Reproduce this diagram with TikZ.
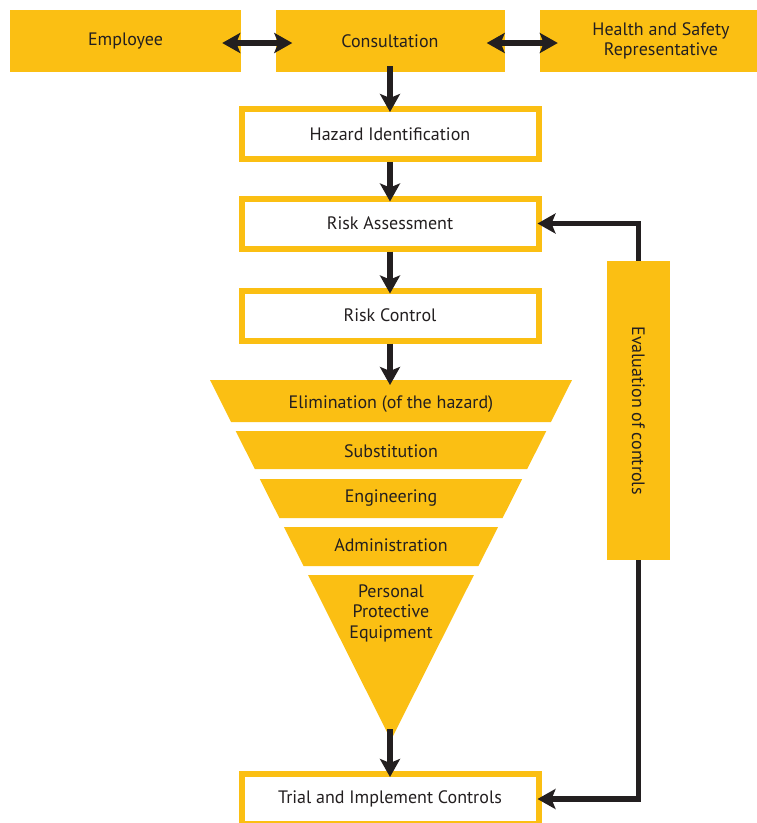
\documentclass[tikz,border=0pt]{standalone}
\usepackage{fontspec}
\setmainfont{PT Sans}
\usetikzlibrary{arrows.meta}
\definecolor{gelb}{HTML}{FBBF13}
\definecolor{dunkel}{HTML}{231F20}

\begin{document}
\begin{tikzpicture}[x=1pt, y=-1pt,
	font=\fontsize{18}{20.5}\selectfont, text=dunkel,
	>={Stealth[length=18pt, width=20pt, inset=4pt]},
	gelbbox/.style={fill=gelb, minimum height=62pt, inner sep=0pt, align=center},
	weissbox/.style={draw=gelb, fill=white, line width=6pt, minimum width=297pt, minimum height=50pt, inner sep=0pt},
	pfeil/.style={draw=dunkel, line width=5.5pt, ->},
	doppelpfeil/.style={draw=dunkel, line width=5.5pt, <->}]
	\useasboundingbox (0,0) rectangle (756,823);
	% obere reihe
	\node[gelbbox, minimum width=231pt] (emp) at (125.5,41) {Employee};
	\node[gelbbox, minimum width=229pt] (consult) at (390,41) {Consultation};
	\node[gelbbox, minimum width=242pt] (hsr) at (661,41) {Health and Safety\\Representative};
	\draw[doppelpfeil] ([xshift=-19pt, yshift=-2pt]emp.east) -- ([xshift=17pt, yshift=-2pt]consult.west);
	\draw[doppelpfeil] ([xshift=-18pt, yshift=-2pt]consult.east) -- ([xshift=18pt, yshift=-2pt]hsr.west);
	% die weissen kaesten
	\node[weissbox] (hazard) at (390,134) {Hazard Identification};
	\node[weissbox] (risk) at (390,223.5) {Risk Assessment};
	\node[weissbox] (ctrl) at (390,315.5) {Risk Control};
	\node[weissbox] (trial) at (390,799) {Trial and Implement Controls};
	\draw[pfeil] ([yshift=6pt]consult.south) -- ([yshift=-6pt]hazard.north);
	\draw[pfeil] (hazard.south) -- ([yshift=-6pt]risk.north);
	\draw[pfeil] (risk.south) -- ([yshift=-6pt]ctrl.north);
	% der trichter
	\fill[gelb] (210,380) -- (572,380) -- (550.9,422) -- (231.1,422) -- cycle;
	\fill[gelb] (235.7,431) -- (546.3,431) -- (527.2,469) -- (254.8,469) -- cycle;
	\fill[gelb] (259.8,479) -- (522.2,479) -- (502.6,518) -- (279.4,518) -- cycle;
	\fill[gelb] (283.9,527) -- (498.1,527) -- (478.4,566) -- (303.6,566) -- cycle;
	\fill[gelb] (308.1,575) -- (473.9,575) -- (391,740) -- cycle;
	\node (elim) at (391,404) {Elimination (of the hazard)};
	\node (subst) at (391,451) {Substitution};
	\node (eng) at (391,498.5) {Engineering};
	\node (admin) at (391,545) {Administration};
	\node[align=center] (ppe) at (391,613) {Personal\\Protective\\Equipment};
	\coordinate (ftop) at (390,385);
	\coordinate (apex) at (390,729);
	\draw[pfeil] (ctrl.south) -- (ftop);
	\draw[pfeil] (apex) -- ([yshift=-6pt]trial.north);
	% bewertung mit rueckfuehrung
	\node[fill=gelb, minimum width=299pt, minimum height=63pt, inner sep=0pt, rotate=-90] (eval) at (638.5,410.5) {Evaluation of controls};
	\draw[pfeil] (eval.west) |- ([xshift=-4pt]risk.east);
	\draw[pfeil] (eval.east) |- ([xshift=-4pt]trial.east);
\end{tikzpicture}
\end{document}
